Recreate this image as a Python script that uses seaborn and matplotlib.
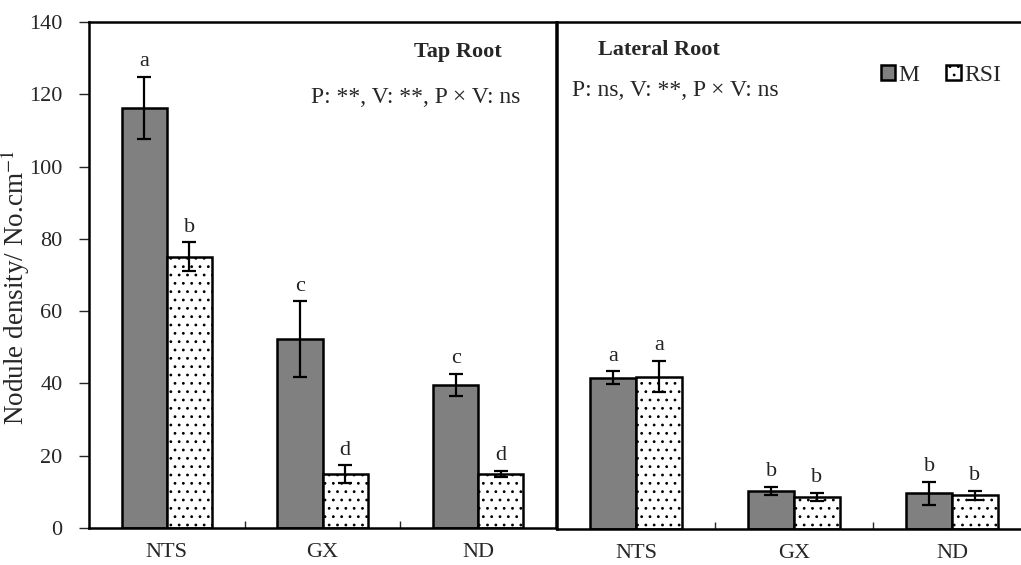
import numpy as np
import pandas as pd
import seaborn as sns
import matplotlib.pyplot as plt
from matplotlib.patches import Patch

# values
varieties = ["NTS", "GX", "ND"]
treatments = ["M", "RSI"]

tap_m = [116.2, 52.3, 39.6]
tap_m_err = [8.7, 10.4, 3.0]
tap_rsi = [75.1, 14.9, 15.0]
tap_rsi_err = [4.0, 2.4, 0.9]
tap_letters_m = ["a", "c", "c"]
tap_letters_rsi = ["b", "d", "d"]

lat_m = [41.8, 10.5, 9.9]
lat_m_err = [1.8, 1.2, 3.2]
lat_rsi = [42.1, 8.9, 9.3]
lat_rsi_err = [4.4, 1.1, 1.3]
lat_letters_m = ["a", "b", "b"]
lat_letters_rsi = ["a", "b", "b"]

sns.set_theme(style="ticks")
plt.rcParams['font.family'] = ['Liberation Serif', 'DejaVu Serif']
plt.rcParams['mathtext.fontset'] = 'stix'
plt.rcParams['hatch.linewidth'] = 0.8
plt.rcParams['hatch.color'] = '#444444'

M_COLOR = "#808080"


def make_df(m, rsi):
    return pd.DataFrame({
        "variety": varieties * 2,
        "treat": ["M"] * 3 + ["RSI"] * 3,
        "value": m + rsi,
    })


def draw_panel(ax, m, m_err, rsi, rsi_err, let_m, let_rsi):
    df = make_df(m, rsi)
    sns.barplot(data=df, x="variety", y="value", hue="treat",
                hue_order=treatments, order=varieties,
                palette=[M_COLOR, "white"], width=0.58, gap=0,
                errorbar=None, edgecolor="black", linewidth=1.8,
                saturation=1, legend=False, ax=ax)
    errs = [m_err, rsi_err]
    lets = [let_m, let_rsi]
    bar_groups = list(ax.containers)
    for k, cont in enumerate(bar_groups):
        for i, bar in enumerate(cont.patches):
            if k == 1:
                bar.set_hatch("..")
                bar.set_facecolor("white")
            xc = bar.get_x() + bar.get_width() / 2
            h = bar.get_height()
            ax.errorbar(xc, h, yerr=errs[k][i], color="black", capsize=5,
                        elinewidth=1.6, capthick=1.6, fmt="none")
            ax.annotate(lets[k][i], (xc, h + errs[k][i]), xytext=(0, 4),
                        textcoords="offset points", ha="center", va="bottom",
                        fontsize=16, color="#222222")
    ax.set_ylim(0, 140)
    ax.set_xlim(-0.5, 2.5)
    ax.set_xlabel("")
    ax.set_ylabel("")
    ax.set_xticks([0, 1, 2])
    ax.set_xticklabels(varieties, fontsize=16)
    ax.set_xticks([0.5, 1.5], minor=True)
    ax.tick_params(axis="x", which="major", length=0, pad=11)
    ax.tick_params(axis="x", which="minor", direction="in", length=5, width=1)
    for s in ax.spines.values():
        s.set_linewidth(1.8)
        s.set_color("black")


fig = plt.figure(figsize=(10.21, 5.65), dpi=100)
ax1 = fig.add_axes([89 / 1021, 1 - 528 / 565, 467 / 1021, 506 / 565])
ax2 = fig.add_axes([557 / 1021, 1 - 529 / 565, 474 / 1021, 507 / 565])

draw_panel(ax1, tap_m, tap_m_err, tap_rsi, tap_rsi_err, tap_letters_m, tap_letters_rsi)
draw_panel(ax2, lat_m, lat_m_err, lat_rsi, lat_rsi_err, lat_letters_m, lat_letters_rsi)

ax1.set_yticks(np.arange(0, 141, 20))
ax1.tick_params(axis="y", direction="out", length=7, width=1, labelsize=16, pad=12)
ax1.set_ylabel(r"Nodule density/ No.cm$^{-1}$", fontsize=19.5)
ax1.yaxis.set_label_coords(-0.123, 0.476)

ax2.set_yticks([])
ax2.tick_params(axis="y", length=0)

ax1.text(0.79, 0.94, "Tap Root", transform=ax1.transAxes, ha="center",
         va="center", fontsize=16, fontweight="bold")
ax1.text(0.70, 0.85, "P: **, V: **, P \u00d7 V: ns", transform=ax1.transAxes,
         ha="center", va="center", fontsize=17)
ax2.text(0.215, 0.945, "Lateral Root", transform=ax2.transAxes, ha="center",
         va="center", fontsize=16, fontweight="bold")
ax2.text(0.25, 0.865, "P: ns, V: **, P \u00d7 V: ns", transform=ax2.transAxes,
         ha="center", va="center", fontsize=17)

handles = [Patch(facecolor=M_COLOR, edgecolor="black", linewidth=1.8),
           Patch(facecolor="white", edgecolor="black", hatch="..", linewidth=1.8)]
ax2.legend(handles, treatments, ncol=2, frameon=False, fontsize=17,
           loc="center", bbox_to_anchor=(0.81, 0.895), handlelength=0.6,
           handleheight=0.6, handletextpad=0.15, columnspacing=1.15)

fig.savefig("out.png", dpi=100)
